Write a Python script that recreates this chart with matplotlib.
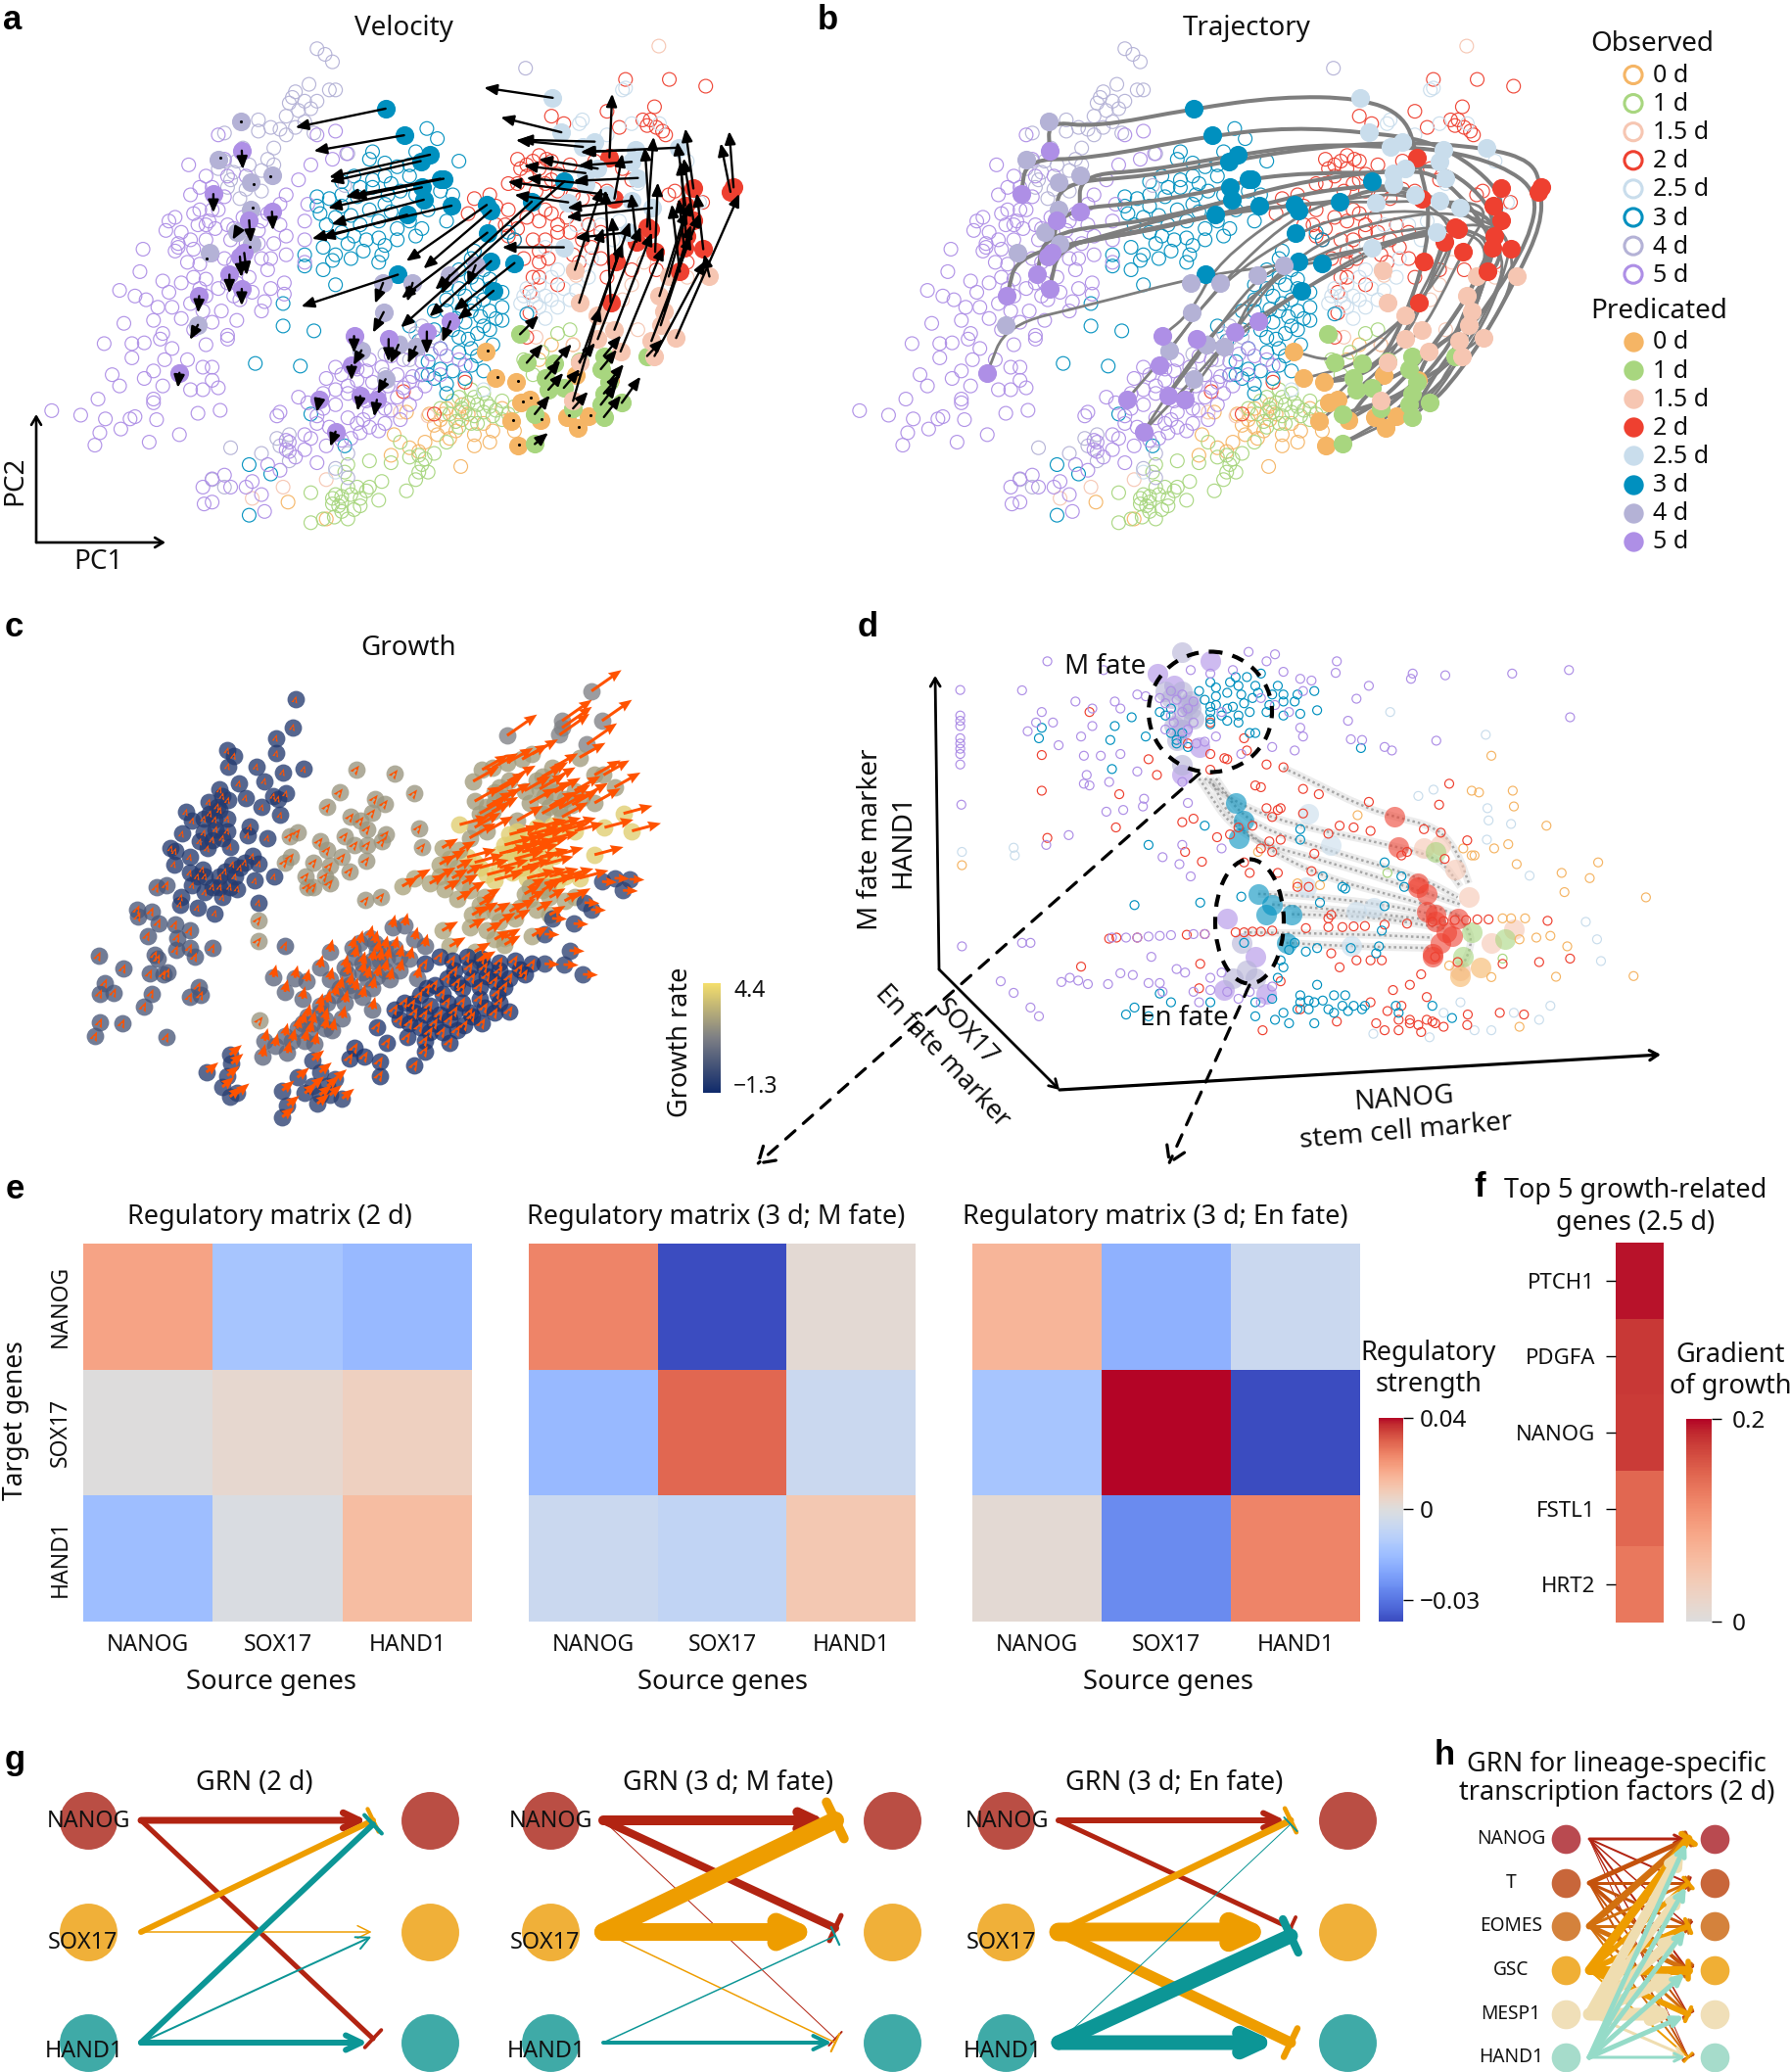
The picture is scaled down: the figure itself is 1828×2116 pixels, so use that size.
import numpy as np
import matplotlib
matplotlib.use('Agg')
import matplotlib.pyplot as plt
from matplotlib.path import Path
from matplotlib.patches import PathPatch, Ellipse
from matplotlib.colors import LinearSegmentedColormap, Normalize, TwoSlopeNorm

plt.rcParams['font.family'] = ['Noto Sans', 'DejaVu Sans']
W, H = 1828, 2116
fig = plt.figure(figsize=(W / 100, H / 100), dpi=100, facecolor='white')

# ---------------- shared colours ----------------
time_labels = ['0 d', '1 d', '1.5 d', '2 d', '2.5 d', '3 d', '4 d', '5 d']
time_colors = ['#F5B565', '#A8D67F', '#F6C6B2', '#EE4030', '#C9DDEC', '#0090BF', '#B4B2D6', '#AE8FE6']

# ---------------- observed cells, PC space ----------------
obs_0d = [(443,1340),(505,1385),(723,1245),(635,1100),(672,1105),(615,1160),(610,1215),(640,1195),(685,1160),(700,1140),(700,1090),(725,1120),(745,1190),(775,1150),(745,1160),(790,1090),(810,1150),(725,1080),(760,1130),(850,960),(870,920),(905,920),(690,1120),(715,1150),(665,1180),(735,1105),(680,1135),(705,1170),(770,1180),(655,1205),(720,1100),(695,1105)]
obs_1d = [(480,1315),(480,1395),(500,1385),(518,1380),(540,1385),(515,1330),(530,1340),(545,1320),(560,1330),(570,1310),(590,1335),(595,1285),(575,1230),(540,1240),(535,1260),(635,1310),(650,1280),(670,1260),(660,1240),(640,1220),(655,1215),(680,1210),(625,1180),(610,1235),(700,1180),(720,1140),(740,1130),(730,1100),(760,1100),(790,1120),(770,1085),(745,1060),(720,1060),(760,1050),(790,1070),(810,1085),(840,1000),(880,890),(900,880),(825,960),(855,940),(525,1350),(550,1360),(575,1300),(555,1300),(530,1325),(655,1260),(665,1225),(750,1080),(775,1110),(735,1075),(705,1105),(750,1130),(520,1320),(540,1300),(515,1345),(560,1350),(530,1365),(745,1110),(765,1075),(725,1090),(710,1070),(740,1040),(780,1095),(800,1105),(690,1090),(715,1125)]
obs_15d = [(1044,123),(910,735),(845,900),(435,1300),(385,1330),(505,1280),(670,1110),(625,1100),(905,920),(1010,880),(1090,740),(1020,700),(960,880),(1000,760),(985,800)]
obs_2d = [(990,212),(1061,212),(1120,230),(960,297),(1037,285),(870,310),(890,330),(1018,320),(1025,335),(1050,350),(870,430),(850,415),(815,425),(820,450),(850,450),(880,465),(830,470),(860,490),(905,520),(920,530),(880,510),(800,490),(745,530),(735,570),(780,550),(795,600),(815,610),(840,640),(810,640),(880,620),(920,640),(950,620),(935,660),(900,620),(1000,480),(1060,520),(1070,510),(985,450),(940,430),(730,1020),(880,760),(850,740),(840,740),(835,780),(825,690),(850,700),(680,1105),(630,1045),(1040,340),(830,440),(860,560),(850,590),(930,600),(950,690),(905,680),(780,600),(830,900),(835,835),(1115,540),(960,510),(1000,720),(840,430),(862,425),(900,440),(870,480),(845,510),(815,490),(770,520),(800,560),(830,580),(870,570),(895,580),(800,630),(860,640),(890,660),(865,690),(850,670),(1055,360),(1030,320),(980,340),(940,505),(1090,700),(1040,720),(960,740),(915,700),(880,600)]
obs_25d = [(985,240),(990,235),(915,330),(920,320),(1045,330),(1000,330),(960,360),(1090,430),(1110,540),(860,660),(880,720),(910,775),(860,790),(830,770),(850,820),(870,800),(900,800),(825,790),(870,740),(860,850),(905,720),(935,690),(970,640),(950,600),(910,600),(980,590),(1010,490),(760,1040),(520,1260),(845,810),(880,820),(820,810),(850,760),(890,770),(930,740),(840,790)]
obs_3d = [(668,343),(685,370),(580,405),(575,425),(600,435),(720,430),(650,405),(620,445),(640,440),(530,485),(490,525),(495,570),(510,530),(555,525),(530,550),(580,500),(605,520),(580,480),(625,510),(650,520),(690,510),(710,520),(505,600),(545,575),(575,560),(610,565),(640,590),(670,560),(700,590),(550,630),(540,650),(590,635),(600,655),(595,680),(565,670),(520,680),(515,695),(470,680),(470,710),(500,720),(590,700),(650,630),(520,760),(435,810),(435,870),(485,883),(390,970),(463,977),(740,690),(760,720),(740,740),(720,720),(700,760),(730,790),(760,800),(790,780),(700,800),(680,830),(740,830),(770,830),(790,855),(730,860),(760,870),(710,880),(735,905),(770,880),(780,850),(740,930),(720,940),(690,930),(690,985),(680,1010),(700,1025),(740,975),(750,950),(760,990),(670,1000),(830,838),(800,620),(810,640),(660,1000),(640,870),(535,1190),(380,1240),(380,1375),(415,1265),(480,1105),(700,1050),(745,810),(715,850),(725,825),(755,845),(550,470),(600,470),(560,500),(530,520),(600,545),(560,600),(590,590),(620,610),(660,610),(520,580),(490,550),(640,470),(610,490),(530,620),(570,640),(620,640),(500,660),(545,690),(750,760),(770,770),(720,770),(700,830),(720,900),(750,890),(790,820),(770,745),(745,670),(705,860),(680,880),(730,1010),(710,990),(775,920),(655,910),(670,965)]
obs_4d = [(490,130),(503,145),(515,165),(828,182),(455,245),(477,225),(510,240),(470,270),(445,275),(520,240),(490,270),(460,295),(430,345),(485,355),(470,325),(440,360),(395,320),(395,350),(340,355),(370,395),(420,395),(410,425),(340,430),(355,460),(350,480),(330,450),(420,440),(400,455),(540,410),(535,495),(540,1210),(520,1250),(540,1275),(350,1195),(425,1170),(445,1160),(340,1300),(400,1210),(320,1280),(600,1000),(640,960),(600,945),(660,905),(660,870),(625,915),(450,260),(480,290),(440,310),(415,340),(455,340),(380,440),(360,430),(345,500),(375,505),(400,510),(365,530),(430,1190),(445,1230),(650,890),(680,900)]
obs_5d = [(60,1096),(107,1108),(145,917),(190,917),(177,863),(170,775),(208,665),(203,725),(135,1065),(147,1118),(172,1145),(138,1155),(130,1188),(218,1180),(267,1160),(297,1103),(333,1095),(225,1065),(230,1120),(187,1118),(195,1112),(158,1000),(170,1030),(190,955),(240,1030),(225,1075),(243,960),(236,905),(225,855),(232,820),(213,800),(195,790),(240,750),(250,780),(270,755),(280,700),(260,670),(265,650),(245,615),(260,580),(290,570),(297,600),(285,640),(310,640),(325,610),(345,600),(330,560),(285,520),(300,500),(310,470),(345,470),(330,360),(282,440),(340,425),(375,470),(320,560),(395,615),(410,570),(430,600),(355,610),(400,690),(410,720),(420,650),(440,630),(470,640),(470,590),(475,545),(440,520),(460,480),(480,440),(515,425),(490,360),(520,350),(538,410),(470,700),(437,755),(437,785),(405,805),(400,830),(365,800),(330,770),(310,790),(335,830),(360,855),(320,860),(345,895),(310,920),(345,905),(280,960),(305,980),(320,1015),(330,1035),(285,1040),(305,1040),(355,700),(340,690),(300,705),(290,740),(310,745),(360,755),(380,740),(250,590),(320,980),(305,1300),(320,1278),(350,1300),(307,1345),(320,1340),(375,1300),(385,1285),(340,1268),(405,1365),(400,1320),(430,1255),(445,1180),(445,1205),(425,1110),(430,1100),(460,1060),(490,1110),(500,1090),(520,1040),(490,1130),(490,1235),(510,1140),(540,1115),(555,1130),(565,1120),(600,1130),(590,1150),(560,1155),(545,1170),(605,1030),(620,1060),(640,1080),(650,1050),(640,1020),(570,990),(595,980),(610,950),(630,960),(660,965),(675,945),(690,1000),(660,1000),(540,1050),(575,1100),(520,1080),(540,1030),(505,1010),(520,980),(580,1020),(620,1000),(600,1090),(570,1070),(650,930),(690,930),(700,950),(720,960),(730,975),(560,940),(440,1175),(440,1200),(455,1220),(410,1240),(470,1160),(300,560),(315,590),(270,620),(290,665),(320,680),(265,660),(310,600),(350,640),(375,650),(395,650),(440,680),(415,690),(430,545),(400,590),(370,580),(340,525),(320,500),(355,790),(345,755),(385,780),(415,770),(300,770),(285,810),(305,830),(290,880),(270,850),(255,820),(240,890),(255,930),(210,915),(225,990),(210,1010),(530,1000),(555,1015),(590,1055),(610,1095),(625,1120),(575,1140),(530,1175),(505,1190),(470,1200),(480,1170),(500,1050),(475,1075),(555,985),(575,960),(630,1035),(665,1030),(645,1005)]
observed = [obs_0d, obs_1d, obs_15d, obs_2d, obs_25d, obs_3d, obs_4d, obs_5d]

# ---------------- predicted cells and their velocity ----------------
pred_0d = [(764,938),(780,1010),(812,1020),(820,1075),(835,1065),(805,1125),(852,1120),(895,1112),(912,1142),(930,1110),(816,1190),(910,1000),(965,1015)]
vel_0d = [(3,-3),(2,-4),(4,-3),(3,-4),(2,-3),(3,-3),(2,-2),(3,-3),(2,-3),(3,-2),(2,-3),(3,-3),(3,-4)]
pred_1d = [(819,892),(830,968),(875,970),(860,1010),(915,965),(955,950),(950,985),(963,1020),(890,1035),(865,1040),(955,1050),(843,1105),(843,1185),(955,1113),(984,1075),(950,1080),(1025,950),(905,1090)]
vel_1d = [(35,-50),(30,-50),(32,-52),(28,-48),(30,-50),(32,-55),(30,-52),(28,-48),(30,-50),(28,-45),(30,-50),(28,-50),(25,-30),(32,-58),(35,-70),(30,-55),(30,-45),(28,-45)]
pred_15d = [(1126,738),(908,720),(1060,738),(915,808),(945,842),(1045,790),(1053,830),(1047,868),(972,880),(945,905),(1072,902),(1032,910),(982,938),(1037,950),(905,1070),(916,968)]
vel_15d = [(-10,-60),(50,-220),(40,-200),(45,-200),(60,-250),(50,-230),(50,-230),(55,-240),(70,-260),(80,-300),(118,-385),(90,-340),(80,-280),(95,-255),(50,-250),(80,-320)]
pred_2d = [(964,420),(1100,503),(1165,500),(1160,512),(972,530),(1087,548),(1100,587),(1025,605),(1030,612),(1008,645),(1088,630),(1085,660),(1116,665),(1038,672),(975,698),(1078,725),(966,807)]
vel_2d = [(5,-170),(-15,-160),(-8,-150),(-18,-130),(15,-120),(-15,-170),(-18,-165),(12,-240),(-10,-220),(-10,-130),(-10,-200),(-10,-130),(-12,-150),(5,-185),(-8,-120),(-15,-180),(-10,-300)]
pred_25d = [(872,261),(886,353),(921,392),(940,378),(1076,394),(1006,400),(1000,432),(945,450),(925,462),(925,490),(1010,475),(960,520),(897,540),(1000,535),(1033,555),(995,620),(890,660)]
vel_25d = [(-128,-27),(-113,-40),(-125,-18),(-140,-5),(-183,12),(-100,5),(-100,10),(-110,-25),(-115,-20),(-110,-15),(-120,8),(-185,-35),(-100,-20),(-120,20),(-160,25),(-100,15),(-115,0)]
pred_3d = [(601,290),(631,361),(673,413),(658,430),(690,477),(695,477),(660,500),(663,533),(636,573),(708,549),(765,547),(772,562),(838,538),(891,484),(766,621),(772,697),(810,702),(621,733),(776,776)]
vel_3d = [(-168,50),(-168,42),(-188,60),(-170,55),(-177,48),(-170,50),(-175,55),(-172,65),(-160,62),(-260,88),(-150,150),(-126,155),(-180,235),(-305,390),(-160,175),(-115,148),(-113,127),(-180,85),(-67,77)]
pred_4d = [(366,323),(330,425),(382,487),(417,467),(382,560),(360,620),(384,650),(316,675),(597,755),(645,755),(705,735),(747,708),(598,833),(297,867),(562,935),(650,925),(622,920),(601,1012)]
vel_4d = [(0,0),(3,-3),(5,5),(-3,3),(3,-5),(-8,20),(-3,8),(-5,15),(-15,55),(-10,50),(-15,50),(-15,55),(-20,55),(-15,40),(-15,40),(-15,45),(-15,50),(-15,40)]
pred_5d = [(368,402),(322,518),(417,565),(380,588),(372,675),(365,685),(348,733),(368,771),(299,790),(267,995),(550,897),(606,905),(668,885),(706,858),(546,975),(494,1065),(560,1057),(587,1067),(520,1152)]
vel_5d = [(2,50),(0,50),(2,50),(3,60),(5,60),(3,55),(0,50),(0,45),(-2,45),(-3,40),(0,45),(0,60),(0,60),(-15,55),(0,40),(-5,35),(-5,40),(-5,45),(-10,40)]
predicted = [pred_0d, pred_1d, pred_15d, pred_2d, pred_25d, pred_3d, pred_4d, pred_5d]
velocity = [vel_0d, vel_1d, vel_15d, vel_2d, vel_25d, vel_3d, vel_4d, vel_5d]

# ---------------- trajectory way-points, PC space ----------------
trajectories = [
 [(368,402),(366,323),(440,340),(601,290),(740,258),(872,261),(945,310),(964,420),(985,560),(975,698),(945,842),(905,970),(860,1010),(812,1020)],
 [(322,518),(330,425),(430,425),(631,361),(760,340),(886,353),(1000,380),(1100,503),(1100,600),(1060,738),(1045,790),(1000,900),(960,980),(905,1070),(852,1120)],
 [(380,588),(382,487),(530,470),(658,430),(790,395),(940,378),(1076,394),(1150,430),(1165,500),(1165,600),(1126,738),(1072,902),(1010,1040),(984,1075),(930,1110)],
 [(417,565),(417,467),(530,455),(673,413),(800,385),(921,392),(1006,400),(1100,440),(1160,512),(1145,640),(1085,800),(1032,910),(980,1030),(955,1113),(912,1142)],
 [(372,675),(382,560),(530,540),(660,500),(690,477),(800,460),(925,462),(1000,432),(1087,548),(1085,660),(1053,830),(1037,950),(963,1020),(895,1112)],
 [(348,733),(360,620),(530,590),(663,533),(790,480),(945,450),(1010,475),(1088,630),(1078,725),(1047,868),(982,938),(950,985),(890,1035),(852,1120)],
 [(368,771),(384,650),(520,620),(636,573),(708,549),(800,510),(925,490),(1000,535),(1100,587),(1078,725),(1047,868),(982,938),(963,1020),(895,1112)],
 [(299,790),(316,675),(500,625),(636,573),(765,547),(838,538),(897,500),(960,520),(1033,555),(1116,665),(1050,790),(1020,920),(950,1050),(843,1105)],
 [(267,995),(297,867),(430,815),(621,733),(747,708),(890,660),(995,620),(1030,612),(1008,645),(975,800),(945,905),(860,1010),(820,1075)],
 [(550,897),(598,833),(640,700),(765,547),(838,538),(897,540),(1000,535),(1087,548),(1038,672),(1000,800),(972,880),(915,965),(812,1020)],
 [(546,975),(562,935),(645,755),(772,562),(880,520),(960,520),(1025,605),(1010,720),(945,842),(875,970),(780,1010)],
 [(494,1065),(562,935),(645,755),(766,621),(860,570),(995,560),(1030,612),(985,760),(916,968),(865,1040),(805,1125)],
 [(560,1057),(622,920),(705,735),(772,697),(890,660),(995,620),(1008,645),(966,807),(908,900),(830,968),(764,938)],
 [(587,1067),(650,925),(747,708),(810,702),(920,640),(1025,605),(1085,660),(1045,800),(982,938),(950,1080),(843,1185),(816,1190)],
 [(520,1152),(601,1012),(668,885),(776,776),(890,660),(1000,600),(1088,630),(1060,790),(1037,950),(984,1075),(955,1113)],
 [(606,905),(650,925),(706,858),(776,776),(860,700),(960,620),(1100,587),(1126,738),(1072,902),(1025,950),(984,1075),(843,1185)],
 [(668,885),(700,780),(810,640),(900,590),(1020,560),(1120,620),(1100,760),(1060,900),(1000,1030),(930,1110)],
 [(520,1152),(580,1000),(650,850),(770,700),(900,620),(1040,600),(1115,680),(1072,850),(1025,960),(955,1050)],
 [(405,650),(520,615),(636,573),(708,549)],
 [(400,655),(520,600),(663,533)],
]

# ---------------- panel c groups ----------------
c_blue = [(591,264),(586,343),(552,374),(553,418),(455,410),(468,425),(456,455),(513,456),(566,472),(608,463),(478,504),(529,497),(440,522),(572,533),(547,540),(556,548),(418,557),(435,570),(456,552),(491,545),(524,572),(561,594),(372,586),(408,605),(385,610),(430,607),(455,605),(500,628),(364,648),(350,698),(342,690),(408,645),(432,635),(455,640),(495,652),(535,660),(415,690),(380,715),(348,735),(460,685),(425,665),(505,712),(405,750),(380,760),(465,735),(490,730),(518,733),(440,770),(470,770),(425,800),(385,795),(410,815),(445,830),(475,805),(510,782),(548,770),(517,845),(362,830),(360,850),(395,860),(430,875),(445,540),(420,590),(440,580),(400,670),(445,660),(410,770),(395,770),(440,800),(460,800),(480,745),(450,755)]
c_gray_left = [(313,802),(333,795),(275,865),(303,870),(277,885),(317,903),(350,908),(380,925),(295,940),(355,945),(352,980),(380,975),(425,975),(390,1000),(310,995),(316,1005),(197,998),(247,1033),(300,1048),(335,1045),(327,1050),(210,1075),(200,1105),(228,1102),(397,1085),(380,1115),(402,1110),(303,1105),(288,1142),(200,1188),(245,1190),(190,1227),(333,1230),(570,968)]
c_tan = [(517,895),(517,955),(713,464),(790,476),(680,530),(829,533),(655,572),(750,548),(770,562),(745,588),(838,632),(702,600),(722,610),(735,635),(690,655),(772,650),(765,670),(710,680),(735,680),(845,686),(580,655),(595,645),(640,670),(655,695),(582,715),(570,730),(628,730),(660,740),(685,715),(700,755),(733,725),(612,770),(650,770),(660,790),(615,800),(627,800),(732,838),(763,828),(520,1182)]
c_top = [(1184,240),(1015,367),(1125,325),(1205,325),(1120,365),(1175,392),(1125,345)]
c_fan = [(965,465),(985,460),(1015,445),(1045,435),(1065,420),(1105,460),(1160,430),(1085,485),(1190,480),(1208,480),(1230,515),(947,498),(1020,495),(1050,525),(1075,495),(1100,500),(1130,550),(1165,545),(1190,560),(990,530),(1010,545),(1060,560),(1035,610),(1100,570),(1125,600),(950,555),(960,590),(975,570),(1000,515),(990,560),(970,600),(1080,520),(1110,530),(1145,565),(1085,590),(1150,525),(1120,575),(1090,540),(985,585),(950,630),(940,660),(975,640)]
c_yellow = [(1210,630),(1265,640),(1190,708),(1248,590),(1020,650),(1010,680),(1000,705),(1040,670),(1060,650),(1090,645),(1120,640),(1150,640),(1030,720),(1060,700),(1080,715),(1110,710),(1015,700),(1045,700),(920,622),(935,715),(975,765),(1025,760),(1075,770),(1100,770),(1130,770),(1160,775),(1035,640),(1075,630),(1105,625),(1135,625),(1050,685),(1080,680),(1030,690),(1070,660),(1100,665),(1025,675),(1060,725),(1045,745),(1090,735),(1000,745),(960,745),(950,730),(990,780),(1055,775),(1090,790),(1115,785)]
c_mid = [(885,688),(920,695),(880,735),(915,745),(905,775),(830,775),(805,798),(860,790),(890,805),(970,830),(940,810),(915,835),(1060,800),(1085,810),(1130,840),(1075,865),(1020,870),(965,870),(945,880),(990,950),(1010,965),(1065,940),(1100,880),(950,985),(960,1010),(900,970),(885,925),(940,915),(900,720),(935,760),(925,790),(880,770),(960,850),(990,870),(1000,900),(1040,860),(1060,835),(1100,830),(1010,945),(1030,890),(975,925),(1095,800),(1050,820),(1150,830)]
c_right = [(1260,778),(1230,775),(1205,785),(1247,810),(1170,845),(1183,865),(1148,905),(1105,890),(1090,935),(1140,982),(1128,1022),(1167,1050),(1090,1020)]
c_band = [(785,915),(810,910),(740,945),(705,975),(660,985),(640,1030),(690,1030),(725,1020),(755,985),(790,975),(830,950),(850,970),(820,1005),(770,1040),(735,1060),(700,1080),(670,1110),(640,1140),(615,1170),(595,1205),(570,1225),(530,1240),(525,1285),(575,1275),(630,1250),(665,1210),(685,1175),(725,1115),(745,1150),(605,1120),(570,1100),(590,1060),(613,1070),(547,1058),(650,1180),(760,1010),(800,1040),(835,1060),(660,1065),(720,960),(750,960),(770,975),(710,1000),(745,1010),(775,1005),(800,1000),(695,1050),(725,1045),(755,1055),(780,1065),(680,1090),(710,1095),(745,1090),(655,1130),(690,1130),(625,1190),(650,1205),(605,1190),(620,1215),(585,1240),(610,1240),(550,1255),(640,1160)]
c_dark = [(850,1020),(880,1000),(910,1040),(940,1030),(970,1030),(1000,1015),(1030,1010),(1065,1020),(1050,1050),(1020,1060),(990,1070),(960,1085),(925,1090),(895,1060),(870,1080),(840,1110),(810,1130),(830,1160),(860,1140),(895,1130),(925,1130),(960,1120),(995,1105),(1020,1155),(990,1160),(965,1190),(930,1195),(900,1180),(870,1190),(840,1200),(800,1180),(755,1200),(775,1245),(815,1230),(850,1240),(850,1270),(900,1245),(830,1310),(710,1260),(730,1285),(760,1300),(760,1340),(700,1290),(905,1010),(935,1000),(965,1005),(1000,1040),(1040,1035),(975,1055),(945,1060),(915,1075),(885,1105),(855,1090),(825,1135),(850,1165),(880,1165),(910,1155),(940,1160),(970,1145),(1000,1130),(820,1190),(790,1150),(860,1215),(885,1215),(915,1210),(945,1170),(1010,1085)]
c_bottom = [(625,1295),(595,1345),(565,1382),(610,1390),(635,1420),(655,1370),(685,1405),(640,1330),(670,1350),(575,1425),(565,1458),(460,1280),(463,1305),(413,1330),(455,1340),(445,1372),(475,1390),(460,1400),(625,1370),(640,1395),(660,1395)]
c_groups = [c_blue, c_gray_left, c_tan, c_top, c_fan, c_yellow, c_mid, c_right, c_band, c_dark, c_bottom]
c_growth = [-0.7, 0.2, 2.2, 1.6, 2.4, 3.9, 2.6, -0.5, 0.7, -0.9, -0.6]
c_arrow = [(2,-10),(4,-13),(6,-11),(60,-60),(52,-42),(58,-22),(32,-26),(30,2),(6,-36),(6,-15),(24,-28)]
c_arrow_width = [2.2, 2.2, 2.4, 3.0, 3.0, 3.0, 3.0, 2.6, 2.8, 2.6, 3.0]

# ---------------- panel d cells ----------------
d_5d = [(400,155),(245,237),(355,238),(245,310),(245,325),(245,340),(245,375),(245,390),(245,405),(245,420),(245,450),(247,565),(438,652),(398,680),(248,970),(355,960),(370,960),(317,1070),(340,1103),(370,1145),(385,1170),(425,1072),(440,1060),(455,1068),(472,1078),(508,1078),(530,1047),(552,1052),(585,1000),(630,1035),(645,1045),(600,1075),(605,1100),(660,1100),(690,1095),(670,1130),(790,155),(805,135),(758,128),(915,155),(913,188),(820,185),(950,262),(972,225),(1050,190),(1047,205),(1108,195),(1227,190),(1328,180),(1330,315),(935,325),(940,378),(960,380),(1092,382),(1000,400),(1013,410),(850,205),(870,210),(855,240),(830,300),(850,345),(855,370),(840,410),(800,400),(450,270),(480,290),(480,340),(460,370),(420,395),(465,425),(495,425),(470,480),(465,505),(475,510),(510,500),(530,420),(560,470),(365,355),(380,330),(410,330),(390,300),(505,585),(535,580),(572,548),(570,570),(640,500),(650,560),(635,735),(655,770),(605,715),(640,680),(710,690),(515,945),(540,945),(560,945),(580,942),(600,940),(620,938),(660,935),(680,935),(620,240),(640,250),(660,270),(640,300),(620,310),(600,260),(650,350),(665,390),(680,385),(700,370),(710,300),(780,260),(805,280),(745,420),(730,180),(690,190),(655,180),(500,180),(520,270),(530,290),(560,250),(575,255),(610,275),(630,265),(650,290),(625,330),(610,350),(660,330),(640,380),(720,1100),(740,1120),(760,1100),(800,1085),(780,1130),(710,1045),(690,1060),(580,1075)]
d_3d = [(690,215),(670,240),(700,230),(735,200),(740,225),(770,225),(780,190),(800,250),(820,270),(840,270),(875,240),(880,295),(850,305),(820,310),(790,300),(760,300),(740,310),(700,280),(690,300),(720,290),(620,290),(600,300),(690,335),(740,330),(760,360),(770,360),(640,360),(630,390),(575,370),(520,340),(512,380),(550,315),(390,345),(385,375),(958,403),(515,463),(580,680),(850,635),(850,665),(680,625),(555,852),(672,845),(745,828),(885,845),(925,800),(930,805),(890,770),(1000,730),(1030,770),(1035,800),(1000,855),(995,925),(990,970),(985,990),(880,975),(860,985),(940,975),(620,1130),(600,1105),(555,1145),(540,1165),(580,1170),(770,1170),(830,1190),(805,1180),(820,1160),(850,1110),(875,1130),(880,1080),(910,1110),(930,1110),(900,1150),(910,1160),(945,1140),(965,1140),(1020,1140),(1025,1160),(1085,1140),(1120,1175),(875,1190),(845,1150),(815,1010),(820,1030),(810,1060),(840,960),(830,980),(750,960),(690,1130),(770,1130),(800,1120),(680,265),(700,255),(720,245),(745,250),(765,260),(690,285),(710,310),(730,285),(750,275),(775,245),(795,280),(810,225),(725,215),(755,200),(690,320),(720,325),(820,250),(845,250),(630,380),(650,400),(620,360),(610,310),(865,1125),(890,1125),(925,1140),(865,1150),(850,1130),(935,1155),(960,1150)]
d_2d = [(475,300),(390,423),(580,435),(595,480),(390,525),(528,535),(522,630),(400,660),(660,605),(640,615),(645,700),(675,728),(702,658),(725,650),(765,625),(740,630),(810,580),(800,600),(790,575),(815,575),(855,520),(883,535),(820,458),(790,450),(720,435),(690,330),(650,390),(750,375),(755,410),(780,515),(770,510),(855,590),(945,630),(975,640),(920,625),(900,648),(972,557),(1097,565),(1115,505),(1070,635),(1100,645),(1147,667),(1107,720),(1040,700),(1030,710),(875,705),(815,665),(795,670),(780,690),(800,700),(750,730),(760,760),(810,760),(870,755),(845,800),(865,800),(905,880),(900,890),(1090,1000),(950,1010),(920,1030),(905,990),(995,1010),(975,1010),(1015,1095),(1045,1080),(1065,1050),(1075,1115),(1130,1015),(1275,1015),(1330,1005),(1290,897),(1248,1165),(1205,1160),(1148,1165),(1147,1195),(1105,1200),(1085,1185),(1065,1215),(1045,1180),(1025,1180),(1005,1155),(985,1190),(1000,1210),(1025,1210),(975,1130),(1030,1140),(1075,1180),(915,1185),(783,1210),(850,1150),(815,1070),(672,1020),(460,1028),(670,1090),(510,948),(523,945),(560,945),(648,937),(680,935),(735,930),(750,930),(765,928),(780,928),(800,925),(860,918),(900,915),(925,915),(945,913),(965,912),(1000,908),(1040,905),(1085,900),(1105,898),(1125,895),(1145,895),(1165,893),(1185,893),(1210,1020),(715,432),(690,465),(690,420),(1045,1190),(1060,1195),(1090,1190)]
d_0d = [(1465,830),(1380,730),(1315,760),(1365,775),(1320,815),(1443,1055),(1305,1057),(1325,970),(1270,945),(1295,940),(1190,1058),(1240,950),(1155,710),(1160,710),(1140,690),(1115,1025),(1228,525),(1155,525),(1168,530),(1190,425),(1230,570),(1288,625),(1220,678),(1235,735),(1195,690),(1250,890),(1225,890),(1210,890),(1240,1200),(248,738),(952,595),(885,795),(845,790),(775,700)]
d_25d = [(1010,300),(1180,365),(1087,522),(1060,540),(1183,575),(1185,610),(1225,620),(1182,665),(1258,768),(1358,900),(1378,950),(1385,1012),(342,710),(340,688),(248,700),(1295,1140),(1275,1180),(1230,1160),(1190,1210),(1160,1210),(1105,1160),(1080,1230),(980,1220),(1135,1130)]
d_1d = [(1005,760),(1210,1005)]
d_obs = [d_0d, d_1d, d_25d, d_2d, d_3d, d_5d]
d_obs_col = [0, 1, 4, 3, 5, 7]
d_big = {7: [(690,155),(595,190),(650,280),(625,225),(640,350),(670,400),(640,480),(720,890),(770,1000),(715,1095),(790,1105)],
         6: [(640,130),(655,290),(620,260),(640,240),(655,270),(640,310),(625,340),(660,320),(630,380),(640,450),(610,240),(755,1040),(745,960),(730,1060),(770,1060)],
         5: [(735,560),(750,610),(740,660),(775,820),(800,850),(835,878),(790,880),(825,960)],
         4: [(865,590),(905,680),(860,800),(950,870),(980,860),(940,970)],
         2: [(1100,680),(1070,690),(1125,750),(1150,830),(1230,920),(1190,960),(1135,1040)],
         1: [(1090,700),(1155,930),(1215,950),(1140,1000)],
         0: [(1135,1055),(1170,1030)],
         3: [(1018,600),(1025,685),(1060,790),(1075,820),(1060,800),(1090,880),(1075,870),(1090,900),(1120,940),(1100,960),(1085,1000),(1110,930),(1085,990),(1130,890)]}
d_traj = [
 [(820,460),(860,490),(960,570),(1018,600),(1095,630),(1130,700),(1150,790)],
 [(680,490),(735,560),(830,620),(1025,685),(1100,720),(1135,800)],
 [(700,490),(750,610),(865,680),(1060,770),(1130,830)],
 [(670,490),(740,660),(905,730),(1060,810),(1135,850)],
 [(690,490),(730,620),(860,760),(1075,850),(1130,880)],
 [(775,820),(860,825),(1000,850),(1090,880)],
 [(800,850),(950,870),(1110,900)],
 [(835,878),(980,885),(1110,920)],
 [(750,930),(950,935),(1085,945)],
 [(825,960),(940,970),(1085,975)],
 [(1130,880),(1160,950),(1135,1040)],
]

# ---------------- heat maps ----------------
matrix_titles = ['Regulatory matrix (2 d)', 'Regulatory matrix (3 d; M fate)', 'Regulatory matrix (3 d; En fate)']
genes = ['NANOG', 'SOX17', 'HAND1']
matrix_2d = [[0.018, -0.013, -0.016], [0.0, 0.003, 0.006], [-0.015, -0.001, 0.012]]
matrix_m = [[0.024, -0.037, 0.002], [-0.016, 0.029, -0.005], [-0.005, -0.007, 0.009]]
matrix_en = [[0.014, -0.018, -0.005], [-0.013, 0.04, -0.037], [0.002, -0.026, 0.024]]
matrices = [matrix_2d, matrix_m, matrix_en]
strength_ticks = [-0.03, 0, 0.04]
strength_labels = ['\u22120.03', '0', '0.04']
growth_genes = ['PTCH1', 'PDGFA', 'NANOG', 'FSTL1', 'HRT2']
growth_grad = [0.195, 0.178, 0.176, 0.145, 0.13]

# ---------------- networks: + activation arrow, - inhibition bar ----------------
grn_titles = ['GRN (2 d)', 'GRN (3 d; M fate)', 'GRN (3 d; En fate)']
grn_2d = [[7, 0, -5], [-6, 1.5, 0], [-6, 2, 6]]
grn_m = [[10, -8, -1], [-18, 18, -1.5], [0, -1.5, 4]]
grn_en = [[6, -5, 0], [-7, 19, -11], [-1, -15, 15]]
grns = [grn_2d, grn_m, grn_en]
grn_colors = ['#B22412', '#EE9D00', '#0C9696']
grn_nodes = ['#B94A40', '#F0AF35', '#3BA8A5']
h_genes = ['NANOG', 'T', 'EOMES', 'GSC', 'MESP1', 'HAND1']
h_nodes = ['#B94A50', '#C8663A', '#D4823C', '#F0AF35', '#F0DFB8', '#A6DCCB']
h_edges_col = ['#B22412', '#C4520C', '#D2700F', '#EE9D00', '#EFDDB0', '#95DBC8']
h_weights = [[3, -2, -1.5, -2, -1.5, -1],
             [-5, -3, -3, -4, -2, -2],
             [-7, -3, -3, -5, -3, -2],
             [-9, -5, -6, -9, -6, -2],
             [10, 8, 10, 11, 13, 3],
             [5, 5, 5, 5, 5, 3]]

# ---------------- helpers ----------------
def axpx(x0, y0, x1, y1, **kw):
    return fig.add_axes([x0 / W, 1 - y1 / H, (x1 - x0) / W, (y1 - y0) / H], **kw)

def xy(pts):
    a = np.array(pts, dtype=float)
    return a[:, 0], a[:, 1]

def curve(pts):
    p = np.array(pts, dtype=float)
    verts = [p[0], (p[0] + p[1]) / 2]
    codes = [Path.MOVETO, Path.LINETO]
    for i in range(1, len(p) - 1):
        verts += [p[i], (p[i] + p[i + 1]) / 2]
        codes += [Path.CURVE3, Path.CURVE3]
    verts.append(p[-1])
    codes.append(Path.LINETO)
    return Path(verts, codes)

def panel_axes(x0, y0, x1, y1):
    a = axpx(x0, y0, x1, y1)
    a.set_xlim(0, 1568)
    a.set_ylim(1568, 0)
    a.axis('off')
    a.patch.set_alpha(0)
    return a

def draw_observed(a):
    for pts, c in zip(observed, time_colors):
        x, y = xy(pts)
        a.scatter(x, y, s=100, facecolors='none', edgecolors=c, linewidths=0.85, zorder=2, alpha=0.95)

def draw_predicted(a):
    for pts, c in zip(predicted, time_colors):
        x, y = xy(pts)
        a.scatter(x, y, s=190, color=c, linewidths=0, zorder=4)

# ---------------- panel a ----------------
ax_a = panel_axes(15, 0, 1003, 600)
draw_observed(ax_a)
draw_predicted(ax_a)
ARROW_SCALE = 0.87
for pts, vel in zip(predicted, velocity):
    for (x, y), (u, v) in zip(pts, vel):
        if abs(u) + abs(v) < 25:
            ax_a.scatter([x + u], [y + v], s=5, color='black', zorder=5, linewidths=0)
            continue
        ax_a.annotate('', xy=(x + u * ARROW_SCALE, y + v), xytext=(x, y), zorder=5,
                      arrowprops=dict(arrowstyle='-|>,head_length=0.85,head_width=0.36', color='black',
                                      lw=1.7, mutation_scale=9, shrinkA=0, shrinkB=0))

# ---------------- panel b ----------------
ax_b = panel_axes(840, 0, 1828, 600)
draw_observed(ax_b)
for i, t in enumerate(trajectories):
    ax_b.add_patch(PathPatch(curve(t), fill=False, edgecolor='#7E7E7E', lw=2.0 if 7 < i < 18 else 2.9, zorder=3, capstyle='round'))
draw_predicted(ax_b)

# ---------------- panel c ----------------
ax_c = axpx(0, 620, 800, 1180)
ax_c.set_xlim(0, 1568)
ax_c.set_ylim(1568, 0)
ax_c.axis('off')
growth_cmap = LinearSegmentedColormap.from_list('growth', ['#0F2A6B', '#7D7F85', '#F5DF6C'])
growth_norm = Normalize(-1.3, 4.4)
for pts, g in zip(c_groups, c_growth):
    x, y = xy(pts)
    ax_c.scatter(x, y, s=165, color=growth_cmap(growth_norm(g)), alpha=0.78, linewidths=0, zorder=2)
for pts, (u, v), wd in zip(c_groups, c_arrow, c_arrow_width):
    x, y = xy(pts)
    ax_c.quiver(x, y, np.full(len(x), u), np.full(len(x), v), angles='xy', scale_units='xy', scale=1,
                units='dots', width=wd, headwidth=3.6, headlength=4.4, headaxislength=4.0,
                minshaft=0.5, minlength=0, color='#FF5200', zorder=3)
ax_gc = axpx(718, 1004, 736, 1116)
ax_gc.imshow(np.linspace(1, 0, 256)[:, None], aspect='auto', cmap=growth_cmap, extent=(0, 1, -1.3, 4.4))
ax_gc.axis('off')

# ---------------- panel d ----------------
ax_d = axpx(840, 620, 1740, 1180)
ax_d.set_xlim(0, 1568)
ax_d.set_ylim(1568, 0)
ax_d.axis('off')
for t in d_traj:
    ax_d.add_patch(PathPatch(curve(t), fill=False, edgecolor='#8A8A8A', lw=5.5, alpha=0.16, zorder=2))
    ax_d.add_patch(PathPatch(curve(t), fill=False, edgecolor='#6E6E6E', lw=1.8, alpha=0.55, ls=(0, (1, 1.2)), zorder=2))
for k, pts in d_big.items():
    x, y = xy(pts)
    ax_d.scatter(x, y, s=230, color=time_colors[k], alpha=0.6, linewidths=0, zorder=3)
for pts, k in zip(d_obs, d_obs_col):
    x, y = xy(pts)
    ax_d.scatter(x, y, s=42, facecolors='none', edgecolors=time_colors[k], linewidths=0.85, zorder=4)

# ---------------- panel e ----------------
heat_boxes = [(85, 482), (540, 935), (993, 1389)]
hm = plt.get_cmap('coolwarm')
def strength_fwd(v):
    return np.interp(v, [-0.037, 0, 0.04], [0, 0.553, 1])
def strength_inv(v):
    return np.interp(v, [0, 0.553, 1], [-0.037, 0, 0.04])
s_norm = TwoSlopeNorm(vcenter=0, vmin=-0.037, vmax=0.04)
for (x0, x1), m in zip(heat_boxes, matrices):
    a = axpx(x0, 1270, x1, 1656)
    a.pcolormesh(np.array(m), cmap=hm, norm=s_norm, linewidth=0)
    a.set_ylim(3, 0)
    a.set_xticks([0.5, 1.5, 2.5], genes, fontsize=16.5, color='#111111')
    a.set_yticks([0.5, 1.5, 2.5])
    a.set_yticklabels(genes if x0 == 85 else ['', '', ''], rotation=90, va='center', fontsize=16.5, color='#111111')
    a.tick_params(axis='x', length=0, pad=9)
    a.tick_params(axis='y', length=0, pad=8)
    for s in a.spines.values():
        s.set_visible(False)

ax_sc = axpx(1408, 1448, 1433, 1656)
vals = np.linspace(-0.037, 0.04, 257)
ax_sc.pcolormesh([0, 1], vals, ((vals[:-1] + vals[1:]) / 2)[:, None], cmap=hm, norm=s_norm)
ax_sc.set_yscale('function', functions=(strength_fwd, strength_inv))
ax_sc.set_ylim(-0.037, 0.04)
ax_sc.set_xticks([])
ax_sc.yaxis.tick_right()
ax_sc.set_yticks(strength_ticks, strength_labels, fontsize=17.5, color='#111111')
ax_sc.minorticks_off()
ax_sc.tick_params(length=7, width=1, pad=5)
for s in ax_sc.spines.values():
    s.set_visible(False)

# ---------------- panel f ----------------
ax_f = axpx(1650, 1269, 1699, 1657)
grad_norm = Normalize(-0.2, 0.2)
ax_f.pcolormesh(np.array(growth_grad)[:, None], cmap=hm, norm=grad_norm)
ax_f.set_ylim(5, 0)
ax_f.set_xticks([])
ax_f.set_yticks(np.arange(5) + 0.5, growth_genes, fontsize=16, color='#111111')
ax_f.tick_params(length=7, width=1, pad=8)
for s in ax_f.spines.values():
    s.set_visible(False)
ax_gg = axpx(1722, 1449, 1748, 1656)
gv = np.linspace(0, 0.2, 129)
ax_gg.pcolormesh([0, 1], gv, ((gv[:-1] + gv[1:]) / 2)[:, None], cmap=hm, norm=grad_norm)
ax_gg.set_xticks([])
ax_gg.yaxis.tick_right()
ax_gg.set_yticks([0, 0.2], ['0', '0.2'], fontsize=17.5, color='#111111')
ax_gg.tick_params(length=7, width=1, pad=8)
for s in ax_gg.spines.values():
    s.set_visible(False)

# ---------------- overlay: text, arrows, networks ----------------
ov = axpx(0, 0, W, H)
ov.set_xlim(0, W)
ov.set_ylim(H, 0)
ov.axis('off')
ov.patch.set_alpha(0)
ov.set_zorder(10)

def txt(x, y, s, size=20, ha='center', va='center', rot=0, **kw):
    ov.text(x, y + 3, s, fontsize=size, ha=ha, va=va, rotation=rot, rotation_mode='anchor', color='#111111', **kw)

def letter(x, y, s):
    ov.text(x, y, s, fontsize=25, ha='center', va='center', fontweight='bold', family='Liberation Sans', color='black')

def arrow(x0, y0, x1, y1, lw=2.0, style='->,head_length=0.5,head_width=0.3', ms=12, ls='-'):
    ov.annotate('', xy=(x1, y1), xytext=(x0, y0),
                arrowprops=dict(arrowstyle=style, lw=lw, color='black', mutation_scale=ms, shrinkA=0, shrinkB=0, ls=ls))

for (x, y, s) in [(13, 20, 'a'), (845, 20, 'b'), (14, 641, 'c'), (886, 640, 'd'), (15, 1214, 'e'), (1511, 1212, 'f'), (15, 1798, 'g'), (1475, 1792, 'h')]:
    letter(x, y, s)

txt(412, 26, 'Velocity')
txt(1273, 26, 'Trajectory')
txt(417, 659, 'Growth')
arrow(37, 554, 37, 423, lw=1.9)
arrow(37, 554, 169, 554, lw=1.9)
txt(15, 488, 'PC2', rot=90)
txt(100, 571, 'PC1')

# legend
txt(1624, 42, 'Observed', ha='left')
txt(1624, 315, 'Predicated', ha='left')
for i, (lab, c) in enumerate(zip(time_labels, time_colors)):
    y1 = 76.5 + 29.1 * i
    y2 = 349 + 29.1 * i
    ov.scatter([1668], [y1], s=170, facecolors='none', edgecolors=c, linewidths=2.2)
    ov.scatter([1668], [y2], s=215, color=c, linewidths=0)
    txt(1688, y1 - 2, lab, ha='left', size=18)
    txt(1688, y2 - 2, lab, ha='left', size=18)

txt(695, 1061, 'Growth rate', rot=90, size=19.5)
txt(749, 1009, '4.4', ha='left', size=16.5)
txt(749, 1107, '\u22121.3', ha='left', size=16.5)

# panel d furniture
arrow(959, 990, 955, 690, lw=2)
arrow(959, 990, 1082, 1113, lw=2)
arrow(1082, 1113, 1696, 1077, lw=2.3)
txt(889, 854, 'M fate marker', rot=90)
txt(922, 856, 'HAND1', rot=90)
txt(986, 1052, 'SOX17', rot=-47, size=19)
txt(962, 1076, 'En fate marker', rot=-47, size=19.5)
txt(1434, 1119, 'NANOG', rot=4)
txt(1436, 1153, 'stem cell marker', rot=5)
txt(1129, 678, 'M fate')
txt(1209, 1037, 'En fate')
ov.add_patch(Ellipse((1236, 727), 126, 123, fill=False, lw=3, ls=(0, (3, 2.5)), edgecolor='black'))
ov.add_patch(Ellipse((1276, 941), 70, 127, fill=False, lw=3, ls=(0, (3, 2.5)), edgecolor='black'))
arrow(1225, 790, 772, 1190, lw=2.3, ls=(0, (4, 3.5)), style='->,head_length=0.8,head_width=0.5', ms=14)
arrow(1276, 1006, 1193, 1190, lw=2.3, ls=(0, (4, 3.5)), style='->,head_length=0.8,head_width=0.5', ms=14)

# panel e/f text
for cx, t in zip((275, 731, 1180), matrix_titles):
    txt(cx, 1240, t, size=19.5)
for cx in (277, 738, 1193):
    txt(cx, 1715, 'Source genes', size=19.8)
txt(16, 1448, 'Target genes', rot=90, size=19)
txt(1459, 1379, 'Regulatory', size=19.5)
txt(1459, 1411, 'strength', size=19.5)
txt(1670, 1213, 'Top 5 growth-related', size=19.5)
txt(1670, 1246, 'genes (2.5 d)', size=19.5)
txt(1767, 1381, 'Gradient', size=19.5)
txt(1767, 1413, 'of growth', size=19.5)

# networks
def edge(x0, y0, x1, y1, w, color, z=3, head=1.0):
    sign = np.sign(w)
    w = abs(w)
    if w == 0:
        return
    lw = w * 0.72
    dx, dy = x1 - x0, y1 - y0
    n = np.hypot(dx, dy)
    if sign > 0:
        hl = (12 + 0.6 * w) * 0.72 * head
        hw = (6 + 0.25 * w) * 0.72 * head
        ex = x1 - dx / n * w * 0.9
        ey = y1 - dy / n * w * 0.9
        ov.annotate('', xy=(ex, ey), xytext=(x0, y0), zorder=z,
                    arrowprops=dict(arrowstyle=f'->,head_length={hl / 10},head_width={hw / 10}', lw=lw, color=color,
                                    mutation_scale=10, shrinkA=0, shrinkB=0, capstyle='round', joinstyle='round'))
    else:
        ov.plot([x0, x1], [y0, y1], color=color, lw=lw, solid_capstyle='round', zorder=z)
        half = (9 + 0.65 * w) * head
        px, py = -dy / n * half, dx / n * half
        ov.plot([x1 - px, x1 + px], [y1 - py, y1 + py], color=color, lw=(1.5 + 0.45 * w) * 0.72, solid_capstyle='round', zorder=z)

grn_left = [90, 562, 1027]
grn_right = [439, 911, 1376]
grn_title_x = [260, 743, 1199]
grn_y = [1859, 1973, 2086]
grn_label_dx = [[0, -6, -4], [0, -6, -4], [1, -5, -3]]
grn_label_dy = [-2, 2, 6]
for k in range(3):
    txt(grn_title_x[k], 1818, grn_titles[k], size=19.5)
    for i in range(3):
        ov.scatter([grn_left[k], grn_right[k]], [grn_y[i]] * 2, s=1800, color=grn_nodes[i], linewidths=0, zorder=2, alpha=0.98)
    for i in range(3):
        for j in range(3):
            off = 0 if i == j else (i - 1) * 4
            edge(grn_left[k] + 54, grn_y[i], grn_right[k] - 58, grn_y[j] + off, grns[k][i][j], grn_colors[i], z=3)
    for i in range(3):
        txt(grn_left[k] + grn_label_dx[k][i], grn_y[i] + grn_label_dy[i] + (6 if i == 1 else 0), genes[i], size=16.8, zorder=6)

h_left, h_right = 1599, 1751
h_y = [1878, 1923, 1967, 2012, 2057, 2101]
for i in range(6):
    ov.scatter([h_left, h_right], [h_y[i]] * 2, s=455, color=h_nodes[i], linewidths=0, zorder=2)
    txt(1543, h_y[i] - 3, h_genes[i], size=13.8)
    for j in range(6):
        w = h_weights[i][j]
        edge(h_left + 24, h_y[i], h_right - 27, h_y[j], w * 1.0, h_edges_col[i], z=3, head=0.6)
txt(1651, 1799, 'GRN for lineage-specific', size=19.6)
txt(1651, 1828, 'transcription factors (2 d)', size=19.6)

fig.savefig('out.png', dpi=100)
